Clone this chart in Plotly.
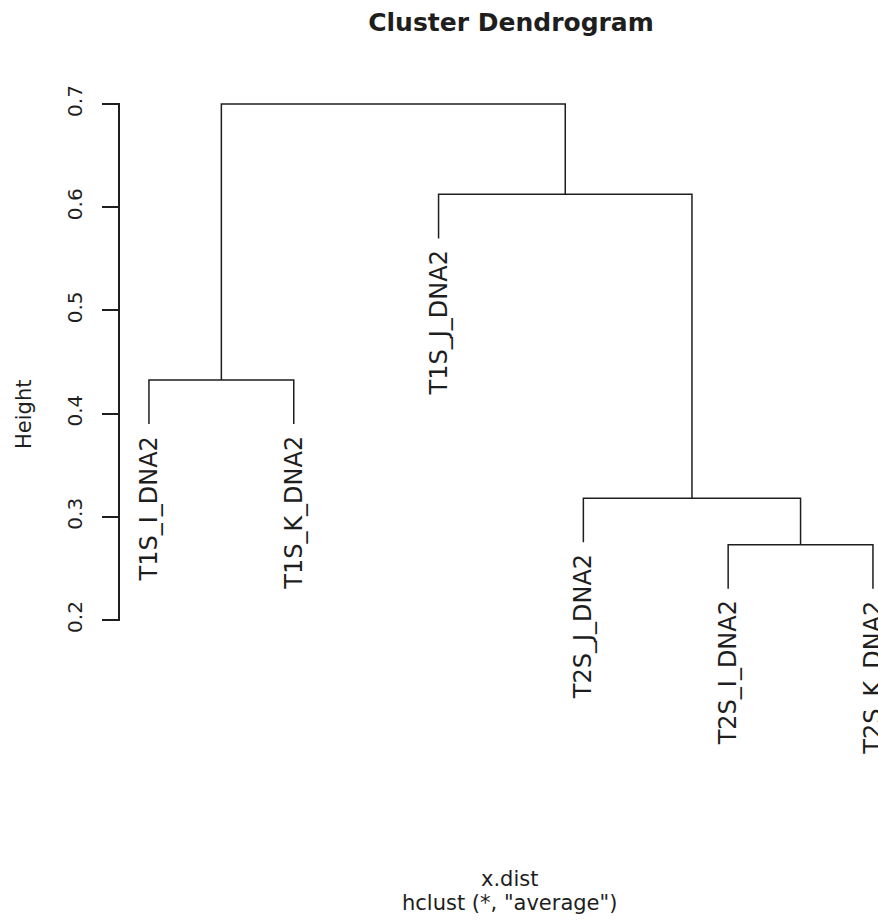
import plotly.graph_objects as go

# ---- data ----
leaf_labels = ["T1S_I_DNA2", "T1S_K_DNA2", "T1S_J_DNA2", "T2S_J_DNA2", "T2S_I_DNA2", "T2S_K_DNA2"]
# merges (R hclust convention: negative = leaf index (1-based), positive = earlier merge)
merge_left = [-5, -1, -4, -3, 2]
merge_right = [-6, -2, 1, 3, 4]
merge_height = [0.2730, 0.4326, 0.3179, 0.6125, 0.7000]
y_ticks = [0.2, 0.3, 0.4, 0.5, 0.6, 0.7]
hang = 0.1

# ---- compute dendrogram geometry ----
order_pos = {i + 1: i + 1 for i in range(len(leaf_labels))}
hrange = max(merge_height) - min(merge_height)
leaf_y = {}
node_x = {}
xs, ys = [], []

def child_info(c):
    if c < 0:
        return order_pos[-c], None
    return node_x[c], merge_height[c - 1]

for k in range(len(merge_height)):
    h = merge_height[k]
    pts = []
    for c in (merge_left[k], merge_right[k]):
        cx, ch = child_info(c)
        if ch is None:
            ch = h - hang * hrange
            leaf_y[-c] = ch
        pts.append((cx, ch))
    (x1, y1), (x2, y2) = pts
    xs += [x1, x1, x2, x2, None]
    ys += [y1, h, h, y2, None]
    node_x[k + 1] = (x1 + x2) / 2

fig = go.Figure()
fig.add_trace(go.Scatter(x=xs, y=ys, mode="lines",
                         line=dict(color="#1e1e1e", width=1.5),
                         hoverinfo="skip", showlegend=False))

label_font = dict(family="DejaVu Sans", size=24, color="#1e1e1e")
for i, lab in enumerate(leaf_labels):
    fig.add_annotation(x=order_pos[i + 1], y=leaf_y[i + 1], xref="x", yref="y",
                       text=lab, showarrow=False, textangle=-90,
                       xanchor="center", yanchor="top", yshift=-10,
                       font=label_font)

W, H = 878, 922
ml, mr, mt, mb = 120, 0, 103, 301
pw = W - ml - mr
ph = H - mt - mb
xunit = 144.8

fig.add_annotation(text="Height", xref="paper", yref="paper", showarrow=False,
                   x=(24 - ml) / pw, y=(mt + ph - 415) / ph, textangle=-90,
                   xanchor="center", yanchor="middle",
                   font=dict(family="DejaVu Sans", size=21, color="#1e1e1e"))
fig.add_annotation(text="x.dist", xref="paper", yref="paper", showarrow=False,
                   x=(509 - ml) / pw, y=(mt + ph - 879) / ph,
                   xanchor="center", yanchor="middle",
                   font=dict(family="DejaVu Sans", size=21, color="#1e1e1e"))
fig.add_annotation(text='hclust (*, "average")', xref="paper", yref="paper", showarrow=False,
                   x=(509 - ml) / pw, y=(mt + ph - 903) / ph,
                   xanchor="center", yanchor="middle",
                   font=dict(family="DejaVu Sans", size=21, color="#1e1e1e"))

fig.update_layout(
    width=W, height=H,
    margin=dict(l=ml, r=mr, t=mt, b=mb, pad=0),
    paper_bgcolor="white", plot_bgcolor="white",
    title=dict(text="<b>Cluster Dendrogram</b>", xref="container", yref="container",
               x=511 / W, y=1 - 22 / H, xanchor="center", yanchor="middle",
               font=dict(family="DejaVu Sans", size=25, color="#1e1e1e")),
    xaxis=dict(range=[0.8, 0.8 + pw / xunit], visible=False, fixedrange=True),
    yaxis=dict(range=[0.199, 0.701], tickvals=y_ticks,
               ticktext=[f"{v:.1f}" for v in y_ticks],
               showline=True, linecolor="#1e1e1e", linewidth=1.5,
               ticks="outside", ticklen=16, tickwidth=1.5, tickcolor="#1e1e1e",
               tickangle=-90, ticklabelstandoff=12,
               tickfont=dict(family="DejaVu Sans", size=20, color="#1e1e1e"),
               showgrid=False, zeroline=False, fixedrange=True),
    showlegend=False,
)

fig.write_html("out.html")
